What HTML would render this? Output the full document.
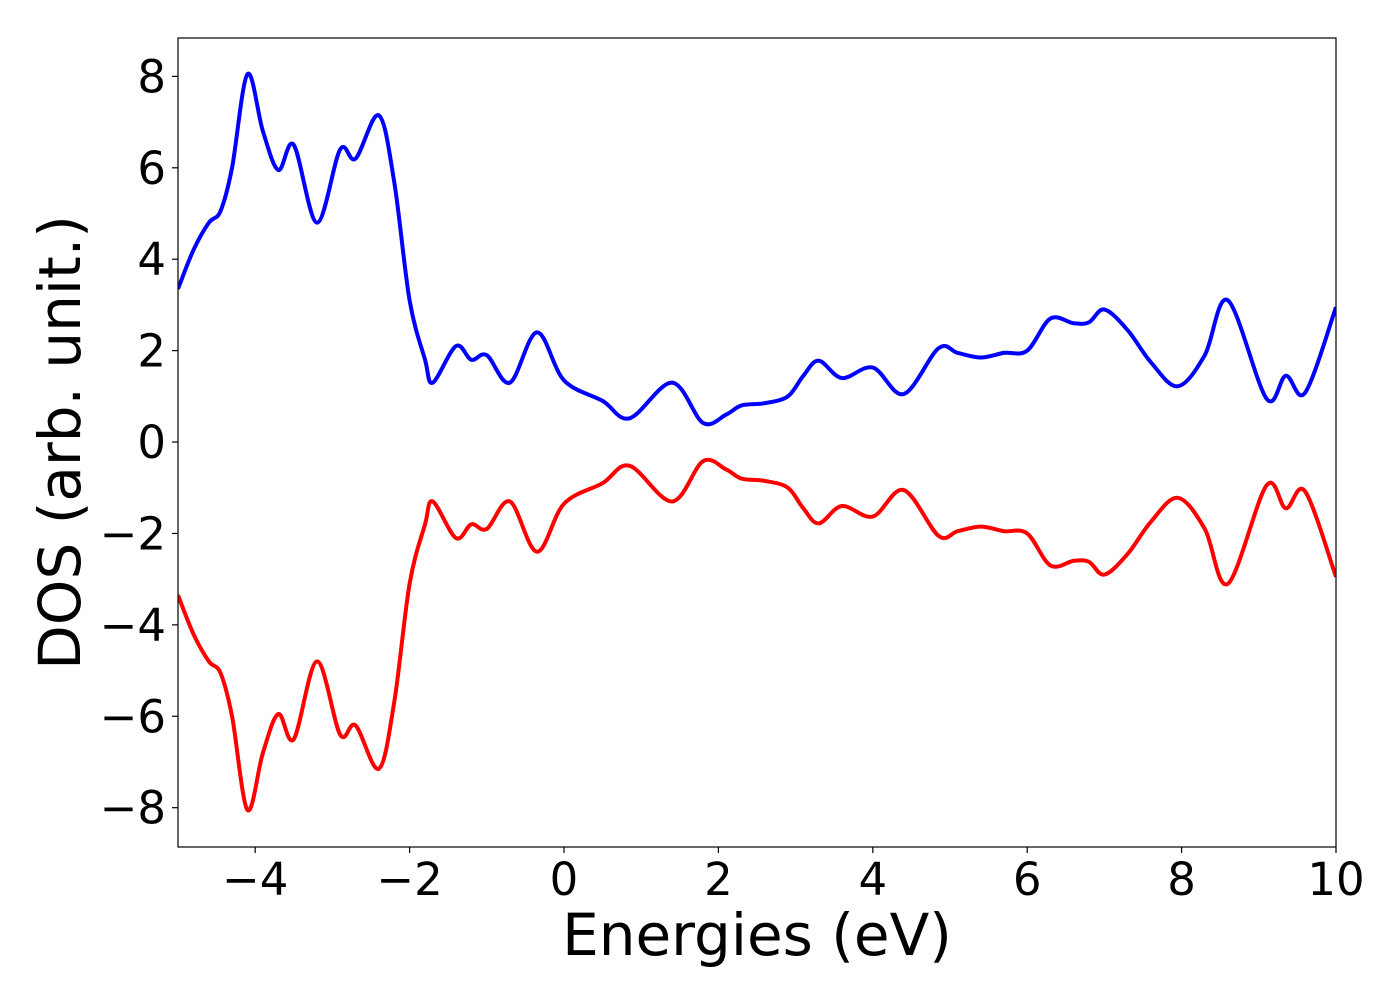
<!DOCTYPE html>
<html><head><meta charset="utf-8"><style>
html,body{margin:0;padding:0;background:#fff;}
svg{display:block;font-family:"DejaVu Sans","Liberation Sans",sans-serif;}
</style></head><body>
<svg id="chart" width="1400" height="1000" viewBox="0 0 1400 1000" xmlns="http://www.w3.org/2000/svg">
<rect width="1400" height="1000" fill="#fff"/>
<g id="plot"></g>
</svg>
<script>
const energies = [-5.0,-4.8,-4.6,-4.45,-4.3,-4.1,-3.9,-3.7,-3.5,-3.2,-2.9,-2.7,-2.4,-2.2,-2.0,-1.8,-1.7,-1.4,-1.2,-1.0,-0.7,-0.35,0,0.5,0.85,1.4,1.8,2.1,2.3,2.6,2.9,3.1,3.3,3.6,4.0,4.4,4.85,5.1,5.4,5.7,6.0,6.3,6.6,6.8,7.0,7.3,7.6,7.95,8.3,8.6,9.1,9.35,9.6,10.0];
const dosUp = [3.35,4.2,4.8,5.05,6.0,8.05,6.8,5.95,6.5,4.8,6.4,6.2,7.15,5.7,3.1,1.8,1.3,2.1,1.8,1.9,1.3,2.4,1.35,0.9,0.52,1.3,0.42,0.6,0.8,0.85,1.0,1.45,1.78,1.4,1.63,1.05,2.05,1.95,1.85,1.95,2.0,2.7,2.6,2.62,2.9,2.45,1.75,1.22,1.9,3.1,0.95,1.45,1.08,2.95];
const dosDown = [-3.35,-4.2,-4.8,-5.05,-6.0,-8.05,-6.8,-5.95,-6.5,-4.8,-6.4,-6.2,-7.15,-5.7,-3.1,-1.8,-1.3,-2.1,-1.8,-1.9,-1.3,-2.4,-1.35,-0.9,-0.52,-1.3,-0.42,-0.6,-0.8,-0.85,-1.0,-1.45,-1.78,-1.4,-1.63,-1.05,-2.05,-1.95,-1.85,-1.95,-2.0,-2.7,-2.6,-2.62,-2.9,-2.45,-1.75,-1.22,-1.9,-3.1,-0.95,-1.45,-1.08,-2.95];
const xTicks = [-4,-2,0,2,4,6,8,10];
const yTicks = [-8,-6,-4,-2,0,2,4,6,8];

const L=178,R=1336,T=38,B=847,XMIN=-5,XMAX=10,YMIN=-8.86,YMAX=8.84;
const sx=v=>L+(v-XMIN)/(XMAX-XMIN)*(R-L);
const sy=v=>B-(v-YMIN)/(YMAX-YMIN)*(B-T);
const NS="http://www.w3.org/2000/svg";
const g=document.getElementById('plot');
function mk(tag,attrs){const e=document.createElementNS(NS,tag);for(const k in attrs)e.setAttribute(k,attrs[k]);return e;}
function pathFor(xs,ys){
  const p=xs.map((x,i)=>[sx(x),sy(ys[i])]);
  let d=`M${p[0][0]},${p[0][1]}`;
  for(let i=0;i<p.length-1;i++){
    const p0=p[i-1]||p[i],p1=p[i],p2=p[i+1],p3=p[i+2]||p2;
    const c1=[p1[0]+(p2[0]-p0[0])/6,p1[1]+(p2[1]-p0[1])/6];
    const c2=[p2[0]-(p3[0]-p1[0])/6,p2[1]-(p3[1]-p1[1])/6];
    d+=` C${c1[0]},${c1[1]} ${c2[0]},${c2[1]} ${p2[0]},${p2[1]}`;
  }
  return d;
}
const clip=mk('clipPath',{id:'cp'});clip.appendChild(mk('rect',{x:L,y:T,width:R-L,height:B-T}));g.appendChild(clip);
const up=mk('path',{d:pathFor(energies,dosUp),fill:'none',stroke:'#0000ff','stroke-width':4,'clip-path':'url(#cp)'});


g.appendChild(up);
const dn=mk('path',{d:pathFor(energies,dosDown),fill:'none',stroke:'#ff0000','stroke-width':4,'clip-path':'url(#cp)'});


g.appendChild(dn);
const frame=mk('rect',{x:L,y:T,width:R-L,height:B-T,fill:'none',stroke:'#000','stroke-width':1.2});


g.appendChild(frame);
xTicks.forEach(v=>{
  const t=mk('line',{x1:sx(v),x2:sx(v),y1:B,y2:B+6,stroke:'#000','stroke-width':1.2});
  
  
  g.appendChild(t);
  const s=mk('text',{x:sx(v),y:B+48,'font-size':45,'text-anchor':'middle',fill:'#000'});
  s.textContent=(v<0?'\u2212':'')+Math.abs(v);
  
  
  g.appendChild(s);
});
yTicks.forEach(v=>{
  const t=mk('line',{x1:L-6,x2:L,y1:sy(v),y2:sy(v),stroke:'#000','stroke-width':1.2});
  
  
  g.appendChild(t);
  const s=mk('text',{x:L-12,y:sy(v)+16,'font-size':45,'text-anchor':'end',fill:'#000'});
  s.textContent=(v<0?'\u2212':'')+Math.abs(v);
  
  
  g.appendChild(s);
});
const xt=mk('text',{x:(L+R)/2,y:955,'font-size':58,'text-anchor':'middle',fill:'#000'});
xt.textContent='Energies (eV)';


g.appendChild(xt);
const yt=mk('text',{x:0,y:0,'font-size':58,'text-anchor':'middle',fill:'#000',transform:`translate(80,${(T+B)/2}) rotate(-90)`});
yt.textContent='DOS (arb. unit.)';


g.appendChild(yt);
</script>
</body></html>
